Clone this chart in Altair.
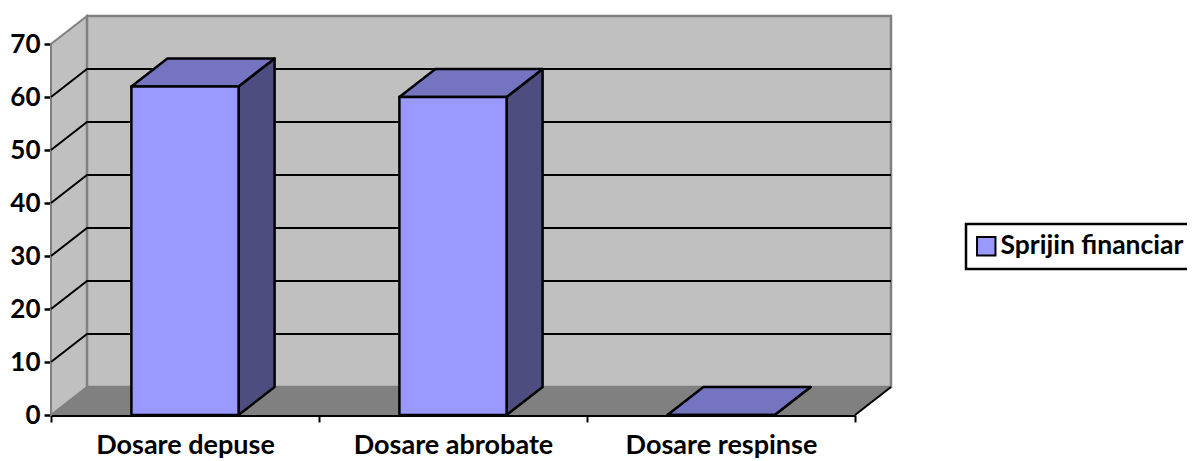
import altair as alt
import pandas as pd

categories = ["Dosare depuse", "Dosare abrobate", "Dosare respinse"]
values = [62, 60, 0]
series_name = "Sprijin financiar"
y_ticks = [0, 10, 20, 30, 40, 50, 60, 70]
grid_levels = [10, 20, 30, 40, 50, 60]

PLOT_W, PLOT_H = 804, 371
X_MAX, Y_MAX = 3, 70
DX = 36 / (PLOT_W / X_MAX)      # depth of the 3D box, in x units
DY = 28 / (PLOT_H / Y_MAX)      # depth of the 3D box, in y units
BAR_W = 0.4

FONT = "Lato"
WALL, FLOOR, EDGE = "#c0c0c0", "#808080", "#808080"
FRONT, TOP, SIDE = "#9999ff", "#7474c1", "#4d4d80"

xs = alt.Scale(domain=[0, X_MAX], nice=False, zero=False)
ys = alt.Scale(domain=[0, Y_MAX], nice=False, zero=False)
X = lambda f="x": alt.X(f"{f}:Q", scale=xs, axis=None)
Y = lambda f="y": alt.Y(f"{f}:Q", scale=ys, title=None)
X2 = alt.X2("x2:Q")
Y2 = alt.Y2("y2:Q")

# --- walls and floor
left_wall = pd.DataFrame({"x": [0, DX], "y": [0, DY], "y2": [Y_MAX, Y_MAX + DY]})
back_wall = pd.DataFrame({"x": [DX], "x2": [X_MAX + DX], "y": [DY], "y2": [Y_MAX + DY]})
floor = pd.DataFrame({"y": [0, DY], "x": [0, DX], "x2": [X_MAX, X_MAX + DX]})

yaxis = alt.Axis(values=y_ticks, grid=False, domainColor="black", domainWidth=2.5,
                 tickColor="black", tickWidth=2.5, tickSize=7,
                 labelFont=FONT, labelFontSize=26, labelFontWeight="bold",
                 labelColor="black", labelPadding=4, labelOverlap=False, labelFlush=False)

l_left = alt.Chart(left_wall).mark_area(fill=WALL, stroke=EDGE, strokeWidth=2, clip=False).encode(
    x=X(), y=alt.Y("y:Q", scale=ys, title=None, axis=yaxis), y2=Y2)
l_back = alt.Chart(back_wall).mark_rect(fill=WALL, stroke=EDGE, strokeWidth=2.5, clip=False).encode(
    x=X(), x2=X2, y=Y(), y2=Y2)
l_floor = alt.Chart(floor).mark_area(orient="horizontal", fill=FLOOR, clip=False).encode(
    y=Y(), x=X(), x2=X2)

# --- grid lines: along the left wall, then along the back wall
grid_rows = []
for lv in grid_levels:
    grid_rows += [
        {"lv": lv, "x": 0, "y": lv},
        {"lv": lv, "x": DX, "y": lv + DY},
        {"lv": lv, "x": X_MAX + DX, "y": lv + DY},
    ]
l_grid = alt.Chart(pd.DataFrame(grid_rows)).mark_line(color="black", strokeWidth=2, clip=False).encode(
    x=X(), y=Y(), detail="lv:N")

edge = pd.DataFrame({"x": [X_MAX, X_MAX + DX], "y": [0, DY]})
l_edge = alt.Chart(edge).mark_line(color="black", strokeWidth=2, clip=False).encode(x=X(), y=Y())

# --- bars
fronts, tops, sides = [], [], []
for i, (c, v) in enumerate(zip(categories, values)):
    x0 = i + (1 - BAR_W) / 2
    x1 = x0 + BAR_W
    fronts.append({"c": c, "series": series_name, "x": x0, "x2": x1, "y": 0, "y2": v})
    tops += [{"c": c, "y": v, "x": x0, "x2": x1},
             {"c": c, "y": v + DY, "x": x0 + DX, "x2": x1 + DX}]
    sides += [{"c": c, "x": x1, "y": 0, "y2": v},
              {"c": c, "x": x1 + DX, "y": DY, "y2": v + DY}]

l_side = alt.Chart(pd.DataFrame(sides)).mark_area(
    fill=SIDE, stroke="black", strokeWidth=2.5, strokeJoin="round", clip=False
).encode(x=X(), y=Y(), y2=Y2, detail="c:N")
l_top = alt.Chart(pd.DataFrame(tops)).mark_area(
    orient="horizontal", fill=TOP, stroke="black", strokeWidth=2.5, strokeJoin="round", clip=False
).encode(y=Y(), x=X(), x2=X2, detail="c:N")
l_front = alt.Chart(pd.DataFrame(fronts)).mark_rect(stroke="black", strokeWidth=2.5, clip=False).encode(
    x=X(), x2=X2, y=Y(), y2=Y2,
    color=alt.Color(
        "series:N",
        scale=alt.Scale(domain=[series_name], range=[FRONT]),
        legend=alt.Legend(
            title=None, orient="none", legendX=915, legendY=180, padding=9,
            symbolType="square", symbolSize=340, symbolStrokeColor="black", symbolStrokeWidth=2,
            symbolOffset=-2, labelLimit=400,
            labelFont=FONT, labelFontSize=26.5, labelFontWeight="bold", labelColor="black",
            labelOffset=1, fillColor="white", strokeColor="black",
        ),
    ),
)

# --- category axis
l_cat = alt.Chart(pd.DataFrame({"c": categories})).mark_point(opacity=0).encode(
    x=alt.X("c:N", sort=categories, title=None,
            scale=alt.Scale(paddingInner=0, paddingOuter=0),
            axis=alt.Axis(labelAngle=0, tickBand="extent", domainColor="black", domainWidth=3,
                          tickColor="black", tickWidth=2, tickSize=7,
                          labelFont=FONT, labelFontSize=27, labelFontWeight="bold", labelLimit=400,
                          labelColor="black", labelPadding=10, grid=False)),
    y=alt.value(PLOT_H),
)

chart = (
    alt.layer(l_left, l_back, l_floor, l_grid, l_edge, l_side, l_top, l_front, l_cat)
    .resolve_scale(x="independent")
    .resolve_axis(x="independent")
    .properties(
        width=PLOT_W, height=PLOT_H, background="white",
        padding={"left": 43, "top": 36, "right": 332, "bottom": 46},
        autosize=alt.AutoSizeParams(type="none"),
    )
    .configure_view(stroke=None)
    .configure_legend(strokeWidth=2.5)
)

chart.save("out.html", embed_options={"renderer": "svg", "actions": False})
